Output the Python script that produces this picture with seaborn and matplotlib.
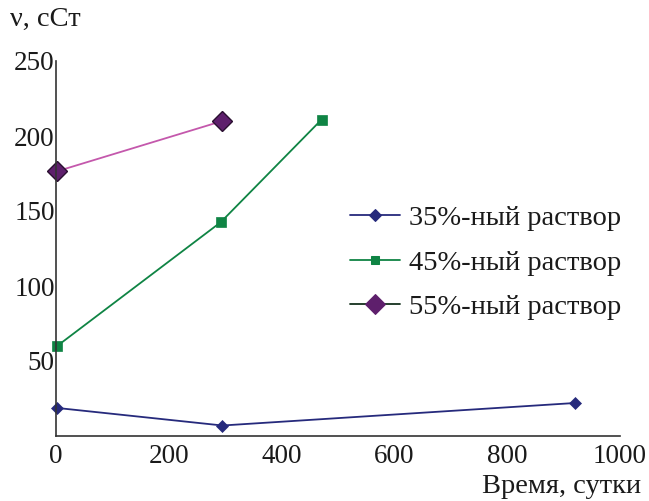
import matplotlib
matplotlib.use("Agg")
import matplotlib.pyplot as plt
import seaborn as sns
import pandas as pd

# Data
t35 = [2, 295, 920]
v35 = [18.7, 7.0, 22.0]
t45 = [2, 292, 471]
v45 = [60.0, 142.5, 211.0]
t55 = [2, 295]
v55 = [176.5, 210.0]
labels = ["35%-ный раствор", "45%-ный раствор", "55%-ный раствор"]
xticks = [0, 200, 400, 600, 800, 1000]
yticks = [50, 100, 150, 200, 250]

df = pd.concat([
    pd.DataFrame({"t": t35, "v": v35, "s": labels[0]}),
    pd.DataFrame({"t": t45, "v": v45, "s": labels[1]}),
    pd.DataFrame({"t": t55, "v": v55, "s": labels[2]}),
], ignore_index=True)

sns.set_style("white")
plt.rcParams["font.family"] = ["Liberation Serif", "DejaVu Serif"]

FS = 19.5
FS2 = 20.5
line_colors = {labels[0]: "#262a7c", labels[1]: "#0f8444", labels[2]: "#c458ac"}
marker_face = {labels[0]: "#262a7c", labels[1]: "#0f8444", labels[2]: "#5e1f6c"}
markers = {labels[0]: "D", labels[1]: "s", labels[2]: "D"}
msizes = {labels[0]: 6.5, labels[1]: 7, labels[2]: 10}

fig = plt.figure(figsize=(6.49, 5.01), dpi=100)
ax = fig.add_axes([56 / 649, 65 / 501, 564 / 649, 375 / 501])

sns.lineplot(data=df, x="t", y="v", hue="s", palette=line_colors, style="s",
             markers=markers, dashes=False, ax=ax, lw=1.3, legend=True,
             sort=False)

for line, lab in zip(ax.lines[:3], labels):
    line.set_markerfacecolor(marker_face[lab])
    line.set_markeredgecolor(marker_face[lab] if lab != labels[2] else "#2a0f30")
    line.set_markersize(msizes[lab])
    line.set_markeredgewidth(1.0 if lab == labels[2] else 0.5)
    line.set_clip_on(False)

ax.set_xlim(0, 1000)
ax.set_ylim(0, 250)
ax.set_xticks(xticks)
ax.set_yticks([0] + yticks)
ax.set_yticklabels([""] + [str(y) for y in yticks])
ax.set_xticklabels([str(x) for x in xticks])
ax.tick_params(direction="in", length=7, width=1.1, color="#333333",
               labelsize=FS, labelcolor="#1a1a1a")
ax.tick_params(axis="x", pad=6)
ax.tick_params(axis="y", pad=1)
for s in ["top", "right"]:
    ax.spines[s].set_visible(False)
for s in ["left", "bottom"]:
    ax.spines[s].set_color("#333333")
    ax.spines[s].set_linewidth(1.2)
ax.set_xlabel("")
ax.set_ylabel("")

fig.text(0.015, 0.962, "ν, сСт", fontsize=FS2, color="#1a1a1a", va="center", ha="left")
fig.text(0.988, 0.028, "Время, сутки", fontsize=FS2, color="#1a1a1a", va="center", ha="right")

leg = ax.legend(loc="center left", bbox_to_anchor=(0.521, 0.462), frameon=False,
                fontsize=FS2, handlelength=1.75, handletextpad=0.33,
                labelspacing=0.66, borderpad=0, borderaxespad=0)
legend_line_colors = ["#262a7c", "#0f8444", "#14301c"]
for h, lab, c in zip(leg.legend_handles, labels, legend_line_colors):
    h.set_color(c)
    h.set_markerfacecolor(marker_face[lab])
    h.set_markeredgecolor(marker_face[lab])
    h.set_markersize(msizes[lab] * (0.9 if lab != labels[2] else 1.0))
for t in leg.get_texts():
    t.set_color("#1a1a1a")

fig.savefig("out.png", dpi=100)
